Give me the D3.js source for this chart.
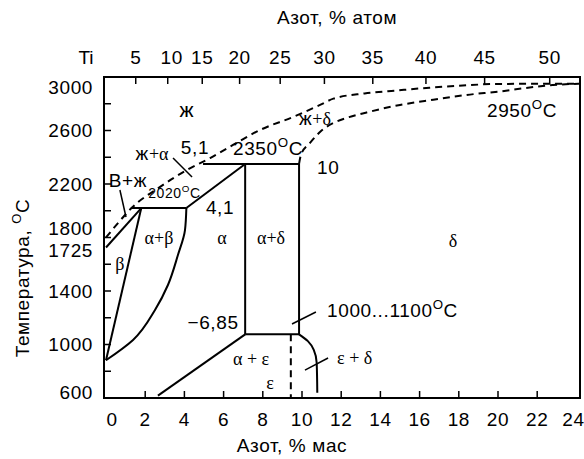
<!DOCTYPE html>
<html><head><meta charset="utf-8">
<script src="https://cdn.jsdelivr.net/npm/d3@7"></script>
<style>body{margin:0;background:#fff} svg{display:block}</style>
</head><body><svg id="c" width="584" height="459"></svg>
<script>
// ---- data ----
const massTicks = [2,4,6,8,10,12,14,16,18,20,22];
const massTickLabels = [0,2,4,6,8,10,12,14,16,18,20,22,24];
const atomTicks = [5,10,15,20,25,30,35,40,45,50];
const tempTicks = [800,1000,1200,1400,1600,1800,2000,2200,2400,2600,2800];
const tempTickLabels = [600,1000,1400,1725,1800,2200,2600,3000];

// phase boundaries [wt% N, T °C]
const liquidus = [[0,1800],[0.97,1968],[1.3,2020],[2.76,2178],[4.13,2305],[5.31,2394],[6.48,2492],[7.86,2604],[9.54,2701],[10.92,2791],[11.6,2838],[13.2,2877],[14.9,2900],[16.5,2920],[18.2,2936],[19.9,2948],[24.2,2950]];
const solidusDelta = [[9.85,2350],[9.95,2420],[10.4,2506],[11.0,2600],[11.6,2656],[12.4,2700],[13.3,2735],[15,2791],[16.7,2830],[18.4,2866],[20.1,2892],[21.8,2925],[22.8,2940],[24.2,2950]];
const betaSolidus = [[0,1725],[1.8,2020]];
const peritectic2020 = [[1.3,2020],[4.1,2020]];
const betaTransus = [[1.8,2020],[0,882]];
const alphaBeta = [[4.1,2020],[4.03,1856],[3.67,1669],[3.16,1445],[2.5,1258],[1.38,1034],[0,882]];
const alphaSolvus = [[4.1,2020],[7.1,2350]];
const peritectic2350 = [[4.95,2350],[9.85,2350]];
const alphaDeltaLeft = [[7.1,2350],[7.1,1076]];
const alphaDeltaRight = [[9.85,2350],[9.85,1076]];
const eutectoid = [[7.1,1076],[9.85,1076]];
const alphaEps = [[7.1,1076],[2.65,618]];
const epsDelta = [[9.85,1076],[10.3,1025],[10.6,960],[10.75,862],[10.78,640]];
const epsDashed = [[9.43,1076],[9.43,600]];

const leaders = [
  [[3.42,2394],[4.39,2252]],
  [[0.71,2155],[1.02,1953]],
  [[9.49,1153],[10.71,1243]],
  [[10.15,809],[11.33,899]]
];

// ---- scales ----
const svg = d3.select('#c');
const L=104, R=580, T=77, B=398;
const x = d3.scaleLinear().domain([0,24]).range([106,576.4]);
const y = d3.scaleLinear().domain([600,3000]).range([B,T]);
// atomic % N -> mass % N
const atToWt = a => 100*(a*14.007)/(a*14.007+(100-a)*47.867);

const sans = "'Liberation Sans', Arial, sans-serif";
const serif = "'Liberation Serif', 'Times New Roman', serif";
const FS = 19;

const line = d3.line().x(d=>x(d[0])).y(d=>y(d[1]));
function path(data, curve, dashed){
  svg.append('path').attr('d', line.curve(curve||d3.curveLinear)(data))
    .attr('fill','none').attr('stroke','#000').attr('stroke-width',2)
    .attr('stroke-dasharray', dashed ? '7,5' : null);
}

// frame
svg.append('rect').attr('x',L).attr('y',T).attr('width',R-L).attr('height',B-T)
  .attr('fill','none').attr('stroke','#000').attr('stroke-width',2);

// ticks
svg.selectAll('.yt').data(tempTicks).join('line')
  .attr('x1',L).attr('x2',L+7).attr('y1',d=>y(d)).attr('y2',d=>y(d))
  .attr('stroke','#000').attr('stroke-width',1.5);
svg.selectAll('.xt').data(massTicks).join('line')
  .attr('x1',d=>x(d)).attr('x2',d=>x(d)).attr('y1',B).attr('y2',B-7)
  .attr('stroke','#000').attr('stroke-width',1.5);
svg.selectAll('.at').data(atomTicks).join('line')
  .attr('x1',d=>x(atToWt(d))).attr('x2',d=>x(atToWt(d))).attr('y1',T).attr('y2',T+7)
  .attr('stroke','#000').attr('stroke-width',1.5);

// tick labels
const yLabelPos = v => {
  let p = y(v);
  if (v===3000) p += 10;
  if (v===600) p -= 6;
  if (v===1800) p -= 9;
  if (v===1725) p += 3;
  return p;
};
svg.selectAll('.yl').data(tempTickLabels).join('text')
  .attr('x',93).attr('y',d=>yLabelPos(d)).attr('dy','0.35em')
  .attr('text-anchor','end').attr('font-family',sans).attr('font-size',FS)
  .attr('letter-spacing',0.6).text(d=>d);
svg.selectAll('.xl').data(massTickLabels).join('text')
  .attr('x',d=> d===0 ? x(d)+6 : (d===24 ? x(d)-3 : x(d))).attr('y',419).attr('dy','0.35em')
  .attr('text-anchor','middle').attr('font-family',sans).attr('font-size',FS)
  .attr('letter-spacing',0.6).text(d=>d);
svg.selectAll('.al').data(atomTicks).join('text')
  .attr('x',d=>x(atToWt(d))+(d===10?4:0)).attr('y',57).attr('dy','0.35em')
  .attr('text-anchor','middle').attr('font-family',sans).attr('font-size',FS)
  .attr('letter-spacing',0.6).text(d=>d);
svg.append('text').attr('x',86).attr('y',57).attr('dy','0.35em')
  .attr('text-anchor','middle').attr('font-family',sans).attr('font-size',FS).text('Ti');

// titles
svg.append('text').attr('x',337).attr('y',17).attr('dy','0.35em')
  .attr('text-anchor','middle').attr('font-family',sans).attr('font-size',FS)
  .attr('letter-spacing',0.6).text('Азот, % атом');
svg.append('text').attr('x',292).attr('y',445).attr('dy','0.35em')
  .attr('text-anchor','middle').attr('font-family',sans).attr('font-size',FS)
  .attr('letter-spacing',0.6).text('Азот, % мас');
const yt = svg.append('text').attr('transform','translate(29,278) rotate(-90)')
  .attr('text-anchor','middle').attr('font-family',sans).attr('font-size',FS)
  .attr('letter-spacing',0.6);
yt.append('tspan').text('Температура, ');
yt.append('tspan').attr('font-size',13).attr('dy',-8).text('O');
yt.append('tspan').attr('dy',8).text('C');

// phase lines
path(liquidus, d3.curveMonotoneX, true);
path(solidusDelta, d3.curveMonotoneX, true);
path(epsDashed, null, true);
[betaSolidus, peritectic2020, betaTransus, alphaSolvus, peritectic2350,
 alphaDeltaLeft, alphaDeltaRight, eutectoid, alphaEps].forEach(d=>path(d));
path(alphaBeta, d3.curveMonotoneY);
path(epsDelta, d3.curveMonotoneY);
leaders.forEach(d=>svg.append('line')
  .attr('x1',x(d[0][0])).attr('y1',y(d[0][1])).attr('x2',x(d[1][0])).attr('y2',y(d[1][1]))
  .attr('stroke','#000').attr('stroke-width',1.5));

// annotations
function label(parts, w, t, anchor, size){
  const s = size||FS;
  const el = svg.append('text').attr('x',x(w)).attr('y',y(t)).attr('dy','0.35em')
    .attr('text-anchor',anchor||'middle').attr('font-size',s);
  parts.forEach(p=>{
    const ts = el.append('tspan').attr('font-family', p[1]==='g' ? serif : sans).text(p[0]);
    if (p[1]==='s' || p[1]==='sup' || p[1]==='after') ts.attr('letter-spacing',0.6);
    if (p[1]==='g') ts.attr('font-size',s*0.95);
    if (p[1]==='sup') ts.attr('font-size',s*0.7).attr('dy',-s*0.4);
    if (p[1]==='after') ts.attr('dy',s*0.4);
  });
}
label([['ж','s']], 4.13, 2753, 'middle', 21);
label([['ж','s'],['+δ','g']], 10.66, 2693);
label([['2950','s'],['O','sup'],['C','after']], 19.44, 2753, 'start');
label([['5,1','s']], 4.54, 2477);
label([['2350','s'],['O','sup'],['C','after']], 6.48, 2469, 'start');
label([['10','s']], 10.77, 2327, 'start');
label([['ж','s'],['+α','g']], 2.35, 2432);
label([['В+ж','s']], 1.12, 2230);
label([['2020','s'],['O','sup'],['C','after']], 2.15, 2133, 'start', 14);
label([['4,1','s']], 5.82, 2028);
label([['α+β','g']], 2.7, 1804);
label([['α','g']], 5.92, 1804);
label([['α+δ','g']], 8.42, 1804);
label([['δ','g']], 17.7, 1781);
label([['β','g']], 0.71, 1609);
label([['−6,85','s']], 5.46, 1168);
label([['α + ε','g']], 7.4, 899);
label([['ε','g']], 8.37, 720);
label([['ε + δ','g']], 11.79, 907, 'start');
label([['1000...1100','s'],['O','sup'],['C','after']], 11.28, 1258, 'start');
</script></body></html>
